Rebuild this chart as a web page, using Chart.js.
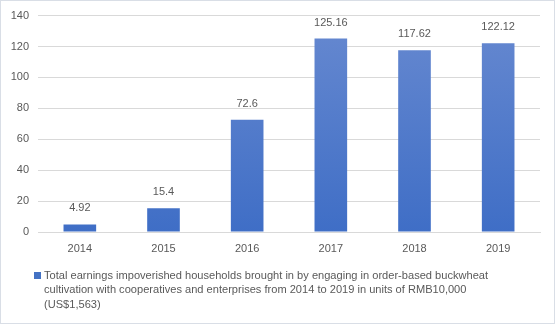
<!DOCTYPE html>
<html><head><meta charset="utf-8">
<script src="https://cdn.jsdelivr.net/npm/chart.js@4"></script>
<style>html,body{margin:0;padding:0;background:#fff}#wrap{width:555px;height:324px}</style>
</head><body><div id="wrap"><canvas id="c" width="555" height="324"></canvas></div>
<script>
const categories = ["2014","2015","2016","2017","2018","2019"];
const values = [4.92, 15.4, 72.6, 125.16, 117.62, 122.12];
const yTicks = [0,20,40,60,80,100,120,140];
const legendLines = [
  "Total earnings impoverished households brought in by engaging in order-based buckwheat",
  "cultivation with cooperatives and enterprises from 2014 to 2019 in units of RMB10,000",
  "(US$1,563)"
];
const FONT = "'Liberation Sans', Arial, sans-serif";
const TXT = "#595959";

const extras = {
  id: 'extras',
  afterDatasetsDraw(chart) {
    const ctx = chart.ctx;
    const meta = chart.getDatasetMeta(0);
    ctx.save();
    ctx.font = "11px " + FONT;
    ctx.fillStyle = TXT;
    ctx.textAlign = 'center';
    ctx.textBaseline = 'middle';
    meta.data.forEach((b, i) => {
      ctx.fillText(String(values[i]), b.x, b.y - 16);
    });
    // legend: size font so first line spans ~444px as in the reference
    ctx.font = "11px " + FONT;
    const w = ctx.measureText(legendLines[0]).width;
    const fs = Math.max(9, Math.min(13, 11 * 444 / w));
    ctx.font = fs.toFixed(2) + "px " + FONT;
    ctx.textAlign = 'left';
    ctx.textBaseline = 'middle';
    ctx.fillStyle = '#4472c4';
    ctx.fillRect(34, 272, 7, 7);
    ctx.fillStyle = TXT;
    legendLines.forEach((t, i) => ctx.fillText(t, 44, 275.5 + i * 14.5));
    // border
    ctx.strokeStyle = '#d9dee6';
    ctx.lineWidth = 1;
    ctx.strokeRect(0.5, 0.5, chart.width - 1, chart.height - 1);
    ctx.restore();
  }
};

new Chart(document.getElementById('c'), {
  type: 'bar',
  data: {
    labels: categories,
    datasets: [{
      label: legendLines.join(' '),
      data: values,
      backgroundColor: (c) => {
        const a = c.chart.chartArea;
        if (!a) return '#4f7acb';
        const g = c.chart.ctx.createLinearGradient(0, a.top, 0, a.bottom);
        g.addColorStop(0, '#6789d0');
        g.addColorStop(1, '#3f6ec6');
        return g;
      },
      barPercentage: 0.39,
      categoryPercentage: 1.0
    }]
  },
  options: {
    responsive: false,
    animation: false,
    layout: { padding: { left: 0, right: 15, top: 15, bottom: 0 } },
    plugins: { legend: { display: false }, tooltip: { enabled: false } },
    scales: {
      x: {
        grid: { display: false },
        border: { display: true, color: '#d9d9d9' },
        ticks: { color: TXT, font: { size: 11, family: FONT }, padding: 2 },
        afterFit(s) { s.height = 92; }
      },
      y: {
        min: 0, max: 140,
        afterBuildTicks(s) { s.ticks = yTicks.map(v => ({ value: v })); },
        grid: { color: '#d9d9d9', drawTicks: false },
        border: { display: false },
        ticks: { color: TXT, font: { size: 11, family: FONT }, padding: 9 },
        afterFit(s) { s.width = 38; }
      }
    }
  },
  plugins: [extras]
});
</script></body></html>
